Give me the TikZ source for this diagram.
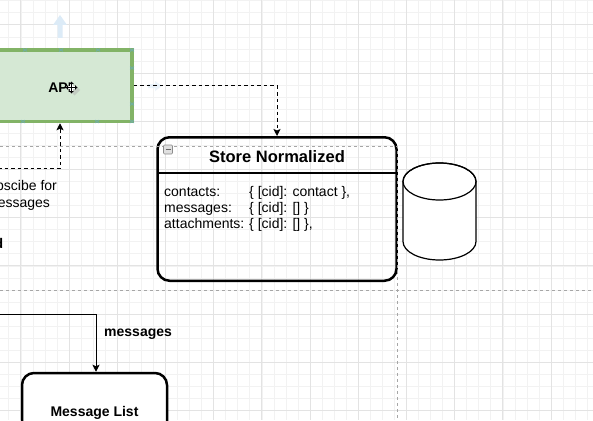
\documentclass[tikz,border=0pt]{standalone}
\usepackage{fontspec}
\setmainfont{Liberation Sans}
\usetikzlibrary{arrows.meta}
\definecolor{apifill}{HTML}{D5E8D4}
\definecolor{apiline}{HTML}{82B366}
\definecolor{hint}{HTML}{DCEBF7}
\definecolor{handle}{HTML}{5DA9E9}
\tikzset{
 minorgrid/.style={draw=black!5, line width=0.6},
 majorgrid/.style={draw=black!11, line width=0.8},
 guide/.style={draw=black!35, line width=0.7, dash pattern=on 3 off 3},
 conn/.style={draw=black, line width=1, -{Stealth[length=7,width=7,inset=1.5]}},
 dconn/.style={conn, dash pattern=on 3.5 off 3},
 lbl/.style={font=\fontsize{14}{17}\selectfont, inner sep=0},
 blbl/.style={font=\fontsize{14}{17}\selectfont\bfseries, inner sep=0},
 roundbox/.style={draw, line width=2.5, rounded corners=12, inner sep=0},
}
\begin{document}
\begin{tikzpicture}[x=1pt,y=-1pt]
\clip (0,0) rectangle (593,420);
\fill[white] (0,0) rectangle (593,420);
% grid
\foreach \i in {-2,...,49} \draw[minorgrid] ({20.8+12.05*\i},0) -- ({20.8+12.05*\i},420);
\foreach \i in {-3,...,33} \draw[minorgrid] (0,{24.8+12.05*\i}) -- (593,{24.8+12.05*\i});
\foreach \i in {-1,...,12} \draw[majorgrid] ({20.8+48.2*\i},0) -- ({20.8+48.2*\i},420);
\foreach \i in {-1,...,8} \draw[majorgrid] (0,{24.8+48.2*\i}) -- (593,{24.8+48.2*\i});

% hover hint arrows
\fill[hint] (60,15) -- (67,25) -- (62.5,25) -- (62.5,38) -- (57.5,38) -- (57.5,25) -- (53,25) -- cycle;
\fill[hint, opacity=0.6] (162,86) -- (155,81) -- (155,84) -- (148,84) -- (148,88) -- (155,88) -- (155,91) -- cycle;

% API
\node[draw=apiline, fill=apifill, line width=3.5, minimum width=137, minimum height=71.5, inner sep=0] (api) at (63.5,85.75) {};
\node[blbl, anchor=base] (apitext) at (60,92) {API};
\foreach \x/\y in {25/50,61/50,98/50,23/121.5,97/121.5,132/50,132/68,132/104,132/121.5}
  \draw[handle, opacity=0.45, line width=0.9] (\x-2,\y-1.5) -- (\x+2,\y+1.5) (\x-2,\y+1.5) -- (\x+2,\y-1.5);
% move cursor
\begin{scope}[shift={(71.5,87.5)}]
 \fill[black!30, opacity=0.5] (3,-3) -- (8.5,2.5) -- (3,8) -- (-2.5,2.5) -- cycle;
 \draw[white, line width=3] (-5.5,0) -- (5.5,0) (0,-5.5) -- (0,5.5);
 \draw[black, line width=1] (-4,0) -- (4,0) (0,-4) -- (0,4);
 \fill (6,0) -- (3.5,-2.3) -- (3.5,2.3) -- cycle;
 \fill (-6,0) -- (-3.5,-2.3) -- (-3.5,2.3) -- cycle;
 \fill (0,6) -- (-2.3,3.5) -- (2.3,3.5) -- cycle;
 \fill (0,-6) -- (-2.3,-3.5) -- (2.3,-3.5) -- cycle;
\end{scope}

% Store Normalized
\node[roundbox, minimum width=239, minimum height=143.5] (store) at (277,209) {};
\draw[line width=2] (157.5,173) -- (396.5,173);
\node[font=\fontsize{16.5}{20}\selectfont\bfseries, anchor=base, inner sep=0] (title) at (277,162) {Store Normalized};
\node[lbl, anchor=base west] (k1) at (164,196) {contacts:};
\node[lbl, anchor=base west] (v1) at (249,196) {\{ [cid]: contact \},};
\node[lbl, anchor=base west] (k2) at (164,212) {messages:};
\node[lbl, anchor=base west] (v2) at (249,212) {\{ [cid]: [] \}};
\node[lbl, anchor=base west] (k3) at (164,228) {attachments:};
\node[lbl, anchor=base west] (v3) at (249,228) {\{ [cid]: [] \},};

% guides
\draw[guide] (0,146) -- (397,146) -- (397,420);
\draw[guide] (0,290) -- (593,290);

% collapse icon
\node[draw=black!45, fill=black!12, line width=0.6, minimum width=9, minimum height=9, inner sep=0, rounded corners=1] (collapse) at (168,149.5) {};
\draw[black!60, line width=1] (165.5,149.5) -- (170.5,149.5);

% cylinder
\path[fill=white, draw, line width=1.2] (403,181.5) -- (403,241.5)
  arc[start angle=180, end angle=0, x radius=36.5, y radius=18.5] -- (476,181.5)
  arc[start angle=0, end angle=-180, x radius=36.5, y radius=18.5] -- cycle;
\draw[line width=1.2] (439.5,181.5) ellipse [x radius=36.5, y radius=18.5];

% Message List
\node[roundbox, fill=white, minimum width=145, minimum height=76] (ml) at (94.5,411) {};
\node[blbl, anchor=base] (mltext) at (94.5,416) {Message List};

% connectors
\coordinate (src1) at (-2,168);
\coordinate (src2) at (-2,314);
\draw[dconn] (api.east) -| (store.north);
\draw[dconn] (src1) -| ([xshift=-3.5]api.south);
\draw[conn] (src2) -| ([xshift=1.5]ml.north);

% labels
\node[blbl, anchor=base west] (msglbl) at (104,336) {messages};
\node[lbl, anchor=base] (sub1) at (18,190.7) {Subscibe for};
\node[lbl, anchor=base] (sub2) at (18,207.3) {messages};
\node[blbl, anchor=base east] (dlbl) at (3.5,248) {d};
\end{tikzpicture}
\end{document}
